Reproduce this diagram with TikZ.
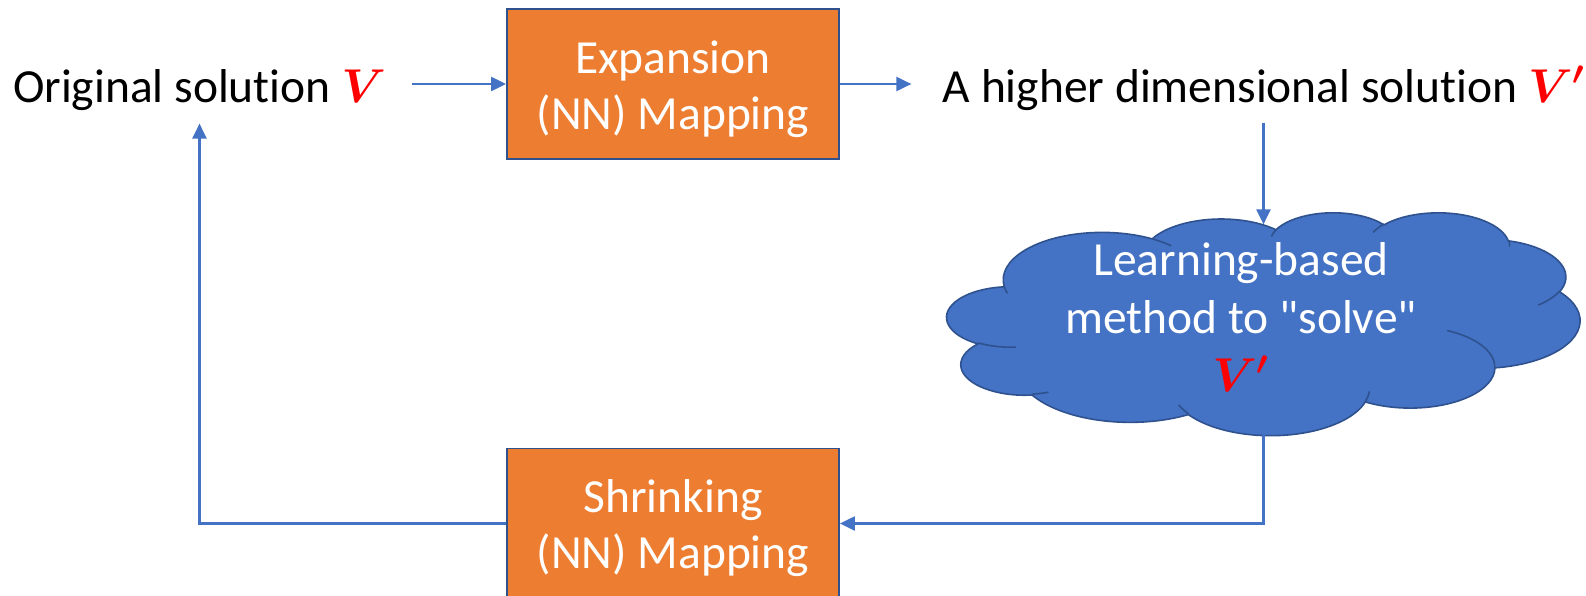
\RequirePackage{fix-cm}
\documentclass[tikz,border=0pt]{standalone}
\usepackage{fontspec}
\setmainfont{Carlito}[Ligatures={CommonOff,TeXOff}]
\usepackage{bm}
\usetikzlibrary{arrows.meta}
\definecolor{pptblue}{RGB}{68,114,196}
\definecolor{pptdark}{RGB}{47,82,143}
\definecolor{pptorange}{RGB}{237,125,49}
\tikzset{
  every node/.style={font=\fontsize{23.75}{28}\selectfont},
  mapbox/.style={draw=pptdark, line width=0.9pt, fill=pptorange, minimum width=166pt, minimum height=75pt, inner sep=0pt},
  boxtext/.style={text=white, align=center, inner sep=0pt},
  arr/.style={draw=pptblue, line width=1.1pt, -{Triangle[length=7.5pt,width=7pt]}},
  cloudshape/.style={fill=pptblue, draw=pptdark, line width=0.8pt},
  cloudline/.style={draw=pptdark, line width=0.8pt},
}
\newcommand\Vr{\textcolor{red}{$\bm{V}$}}
\newcommand\Vp{\textcolor{red}{$\bm{V'}$}}
\begin{document}
\begin{tikzpicture}[x=0.5pt,y=-0.5pt]
\useasboundingbox (0,0) rectangle (1586,595);
\clip (0,0) rectangle (1586,595);
% ---- cloud outline (PowerPoint cloud geometry) ----
\gdef\cloudpath{}
\foreach \cwR/\chR/\cst/\csw in {6753/9190/-190.48748/123.78053, 5333/7267/-144.10238/89.94523, 4365/5945/-145.80792/99.72302, 4857/6595/-130.98607/117.24173, 5333/7273/-78.70888/109.02692, 6775/9220/-46.26725/130.26900, 5785/7867/0.62502/114.03333, 6752/9215/22.45160/115.17255, 7720/10543/66.24263/75.71102, 4360/5918/-274.94208/146.73557, 4345/5945/-246.82850/152.51885}{%
  \pgfmathsetmacro\cta{atan2(-\cwR*sin(\cst),\chR*cos(\cst))}%
  \pgfmathsetmacro\ctb{atan2(-\cwR*sin(\cst+\csw),\chR*cos(\cst+\csw))}%
  \pgfmathsetmacro\ctb{\ctb>\cta ? \ctb-360 : \ctb}%
  \pgfmathsetmacro\crx{\cwR*0.0073264}%
  \pgfmathsetmacro\cry{\chR*0.002581}%
  \xdef\cloudpath{\cloudpath arc[x radius=\crx pt, y radius=\cry pt, start angle=\cta, end angle=\ctb]}%
}
\gdef\cloudinner{}
\foreach \cu/\cv/\cwR/\chR/\cst/\csw in {46.93/261.77/4345/5945/86.74200/26.42950, 69.28/348.99/4360/5918/73.61047/11.44747, 164.78/390.90/6752/9215/137.62415/14.08110, 288.27/347.51/6752/9215/6.45327/15.99835, 341.29/229.54/5785/7867/-70.29235/70.91737, 417.98/153.54/5333/7273/30.31803/27.75150, 383.24/54.26/4857/6595/-13.74433/14.85890, 290.78/39.52/4857/6595/-149.18145/18.19537, 221.41/47.20/4365/5945/-163.49427/17.68635, 140.00/51.92/6753/9190/-66.70695/12.31935, 41.27/157.89/6753/9190/157.65435/11.85817}{%
  \pgfmathsetmacro\cta{atan2(-\cwR*sin(\cst),\chR*cos(\cst))}%
  \pgfmathsetmacro\ctb{atan2(-\cwR*sin(\cst+\csw),\chR*cos(\cst+\csw))}%
  \pgfmathsetmacro\ctb{\ctb>\cta ? \ctb-360 : \ctb}%
  \pgfmathsetmacro\crx{\cwR*0.0073264}%
  \pgfmathsetmacro\cry{\chR*0.002581}%
  \pgfmathsetmacro\cmx{947+\cu*1.46528}%
  \pgfmathsetmacro\cmy{212+\cv*0.51620}%
  \xdef\cloudinner{\cloudinner (\cmx,\cmy) arc[x radius=\crx pt, y radius=\cry pt, start angle=\cta, end angle=\ctb]}%
}
\path[cloudshape] (1004.15,286.18) \cloudpath -- cycle;
\path[cloudline] \cloudinner;
\node[minimum width=316.5pt, minimum height=111.5pt, inner sep=0pt] (cloud) at (1263.5,323.5) {};
\coordinate (cloudtop) at ([yshift=-6.4pt]cloud.north);
\coordinate (cloudbot) at ([yshift=0.1pt]cloud.south);
\node[boxtext, font=\fontsize{23.75}{29}\selectfont] (cloudtxt) at (1241,317.5) {Learning-based\\method to "solve"\\\Vp};
% ---- boxes ----
\node[mapbox] (exp) at (673,84) {};
\node[boxtext] (exptxt) at ([yshift=-2.6pt]exp.center) {Expansion\\(NN) Mapping};
\node[mapbox] (shr) at (673,523.5) {};
\node[boxtext] (shrtxt) at ([yshift=-2.25pt]shr.center) {Shrinking\\(NN) Mapping};
% ---- plain texts ----
\node[anchor=base, inner xsep=0pt, inner ysep=6.5pt, minimum width=180.5pt] (orig) at (199.5,102) {Original solution \Vr\hspace{-4pt}};
\node[anchor=base, inner xsep=15.5pt, inner ysep=6pt] (hisol) at (1264,102) {A higher dimensional solution \Vp};
% ---- connectors ----
\draw[arr] ([xshift=13pt]orig.east |- exp.west) -- (exp.west);
\draw[arr] (exp.east) -- (hisol.west |- exp.east);
\draw[arr] (hisol.south -| cloudtop) -- (cloudtop);
\draw[arr] (cloudbot) |- (shr.east);
\draw[arr] (shr.west) -| (orig.south);
\end{tikzpicture}
\end{document}
